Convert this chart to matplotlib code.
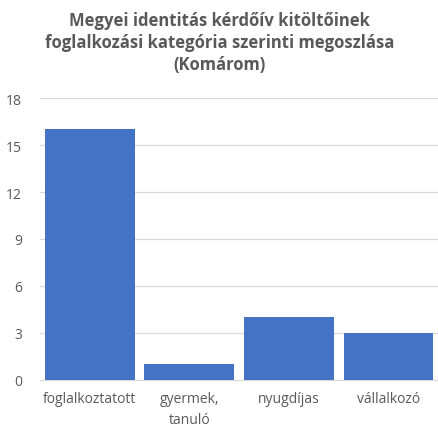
import matplotlib.pyplot as plt

categories = ["foglalkoztatott", "gyermek,\ntanuló", "nyugdíjas", "vállalkozó"]
values = [16, 1, 4, 3]
yticks = [0, 3, 6, 9, 12, 15, 18]

plt.rcParams['font.family'] = ['Open Sans', 'DejaVu Sans']

fig = plt.figure(figsize=(4.39, 4.27), dpi=100)
ax = fig.add_axes([0.091, 0.108, 0.907, 0.66])
ax.set_axisbelow(True)

x = range(len(categories))
ax.bar(x, values, width=0.9, color="#4472C4", zorder=3)

ax.set_xlim(-0.5, len(categories) - 0.5)
ax.set_ylim(0, 18)
ax.set_yticks(yticks)
ax.set_xticks(list(x))
ax.set_xticklabels(categories, fontsize=10, color="#595959", linespacing=1.55)
ax.tick_params(axis="y", labelsize=10, colors="#595959", length=0, pad=13)
ax.tick_params(axis="x", length=0, pad=8)
ax.grid(axis="y", color="#D9D9D9", linewidth=0.9)
for s in ["top", "right", "left"]:
    ax.spines[s].set_visible(False)
ax.spines["bottom"].set_color("#D9D9D9")

fig.text(0.5, 0.972,
         "Megyei identitás kérdőív kitöltőinek\nfoglalkozási kategória szerinti megoszlása\n(Komárom)",
         ha="center", va="top", fontsize=12, fontweight="bold", color="#595959",
         linespacing=1.3)

fig.savefig("out.png", dpi=100)
